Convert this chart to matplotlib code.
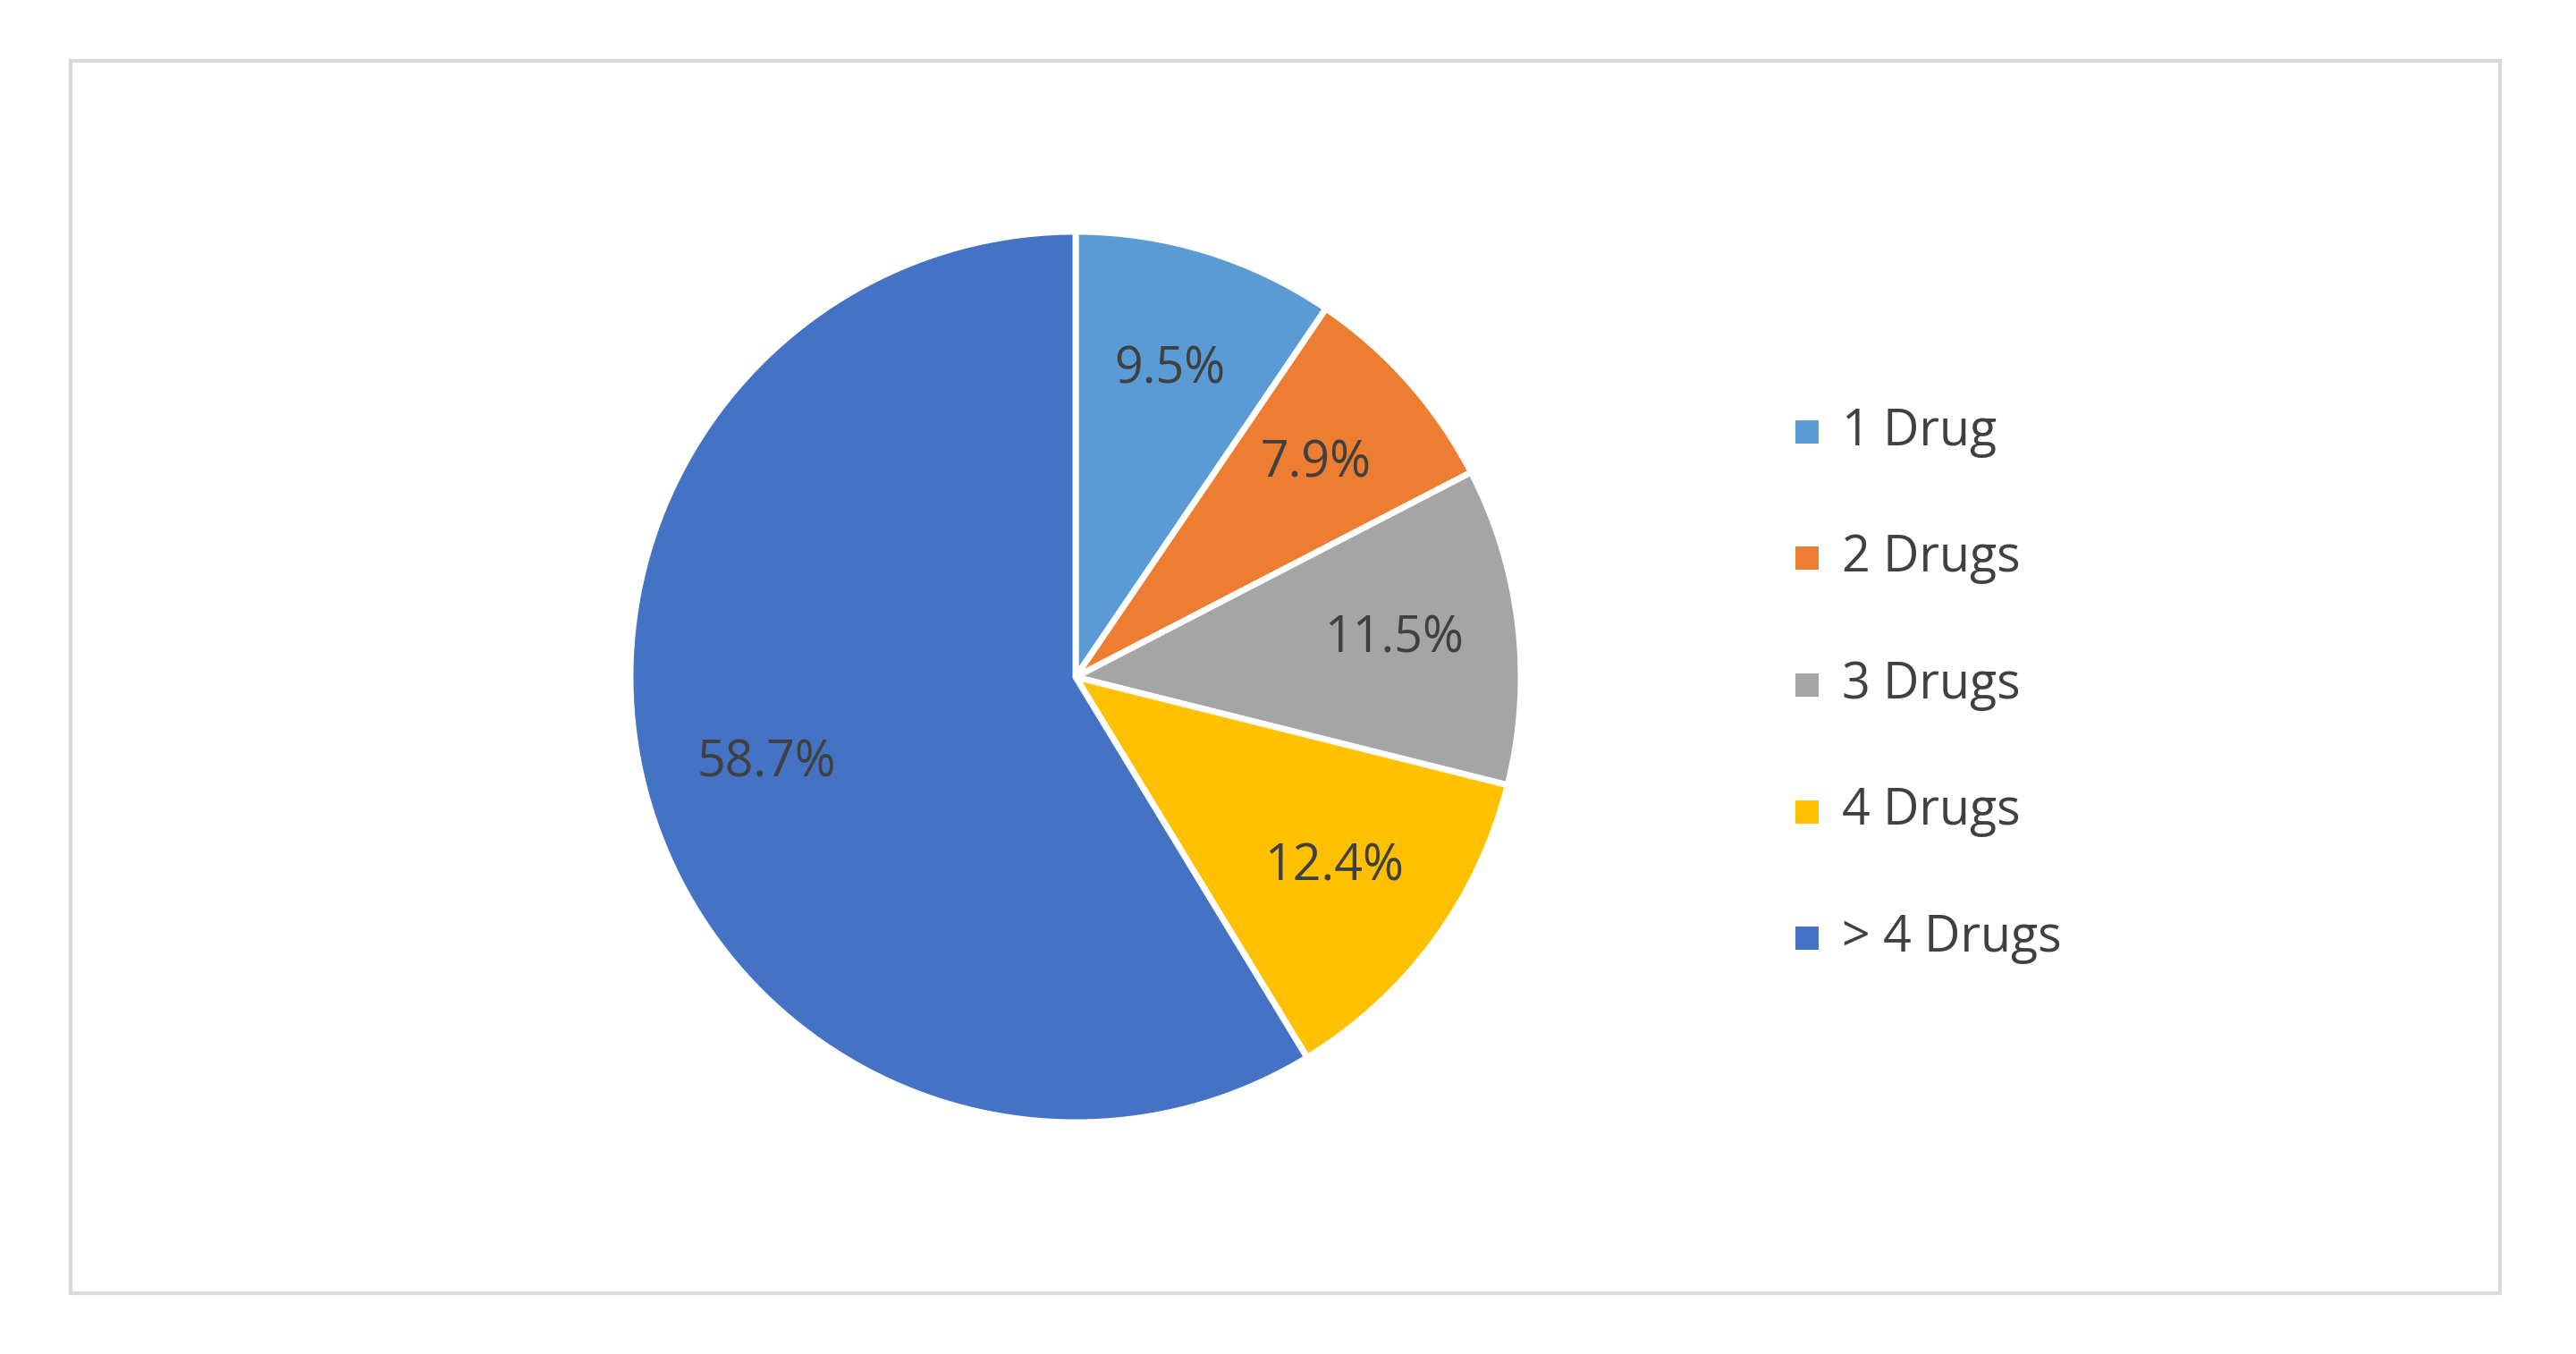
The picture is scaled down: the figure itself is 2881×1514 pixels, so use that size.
import matplotlib.pyplot as plt
from matplotlib.patches import Rectangle

labels = ['1 Drug', '2 Drugs', '3 Drugs', '4 Drugs', '> 4 Drugs']
values = [9.5, 7.9, 11.5, 12.4, 58.7]
colors = ['#5B9BD5', '#ED7D31', '#A5A5A5', '#FFC000', '#4472C4']

W, H = 2881, 1514
fig = plt.figure(figsize=(W / 100, H / 100), dpi=100)
plt.rcParams['font.family'] = ['Open Sans', 'DejaVu Sans']

# outer frame
fig.patches.append(Rectangle((79 / W, 1 - 1446 / H), (2796 - 79) / W, (1446 - 68) / H,
                             transform=fig.transFigure, fill=False, edgecolor='#D9D9D9', linewidth=3))

cx, cy, r = 1203, 757, 508
ax = fig.add_axes([(cx - r) / W, 1 - (cy + r) / H, 2 * r / W, 2 * r / H])
wedges, texts, autotexts = ax.pie(values, colors=colors, startangle=90, counterclock=False,
                                  autopct='%1.1f%%', pctdistance=0.72,
                                  wedgeprops=dict(edgecolor='white', linewidth=5),
                                  textprops=dict(color='#404040', fontsize=40))
ax.set_xlim(-1.02, 1.02)
ax.set_ylim(-1.02, 1.02)

# legend
sq = 26
for i, lab in enumerate(labels):
    y = 483 + i * 141.5
    fig.patches.append(Rectangle((2008 / W, 1 - (y + sq / 2) / H), sq / W, sq / H,
                                 transform=fig.transFigure, facecolor=colors[i], edgecolor='none'))
    fig.text(2060 / W, 1 - y / H, lab, fontsize=40, color='#404040', va='center', ha='left')

fig.savefig('out.png', dpi=100, facecolor='white')
